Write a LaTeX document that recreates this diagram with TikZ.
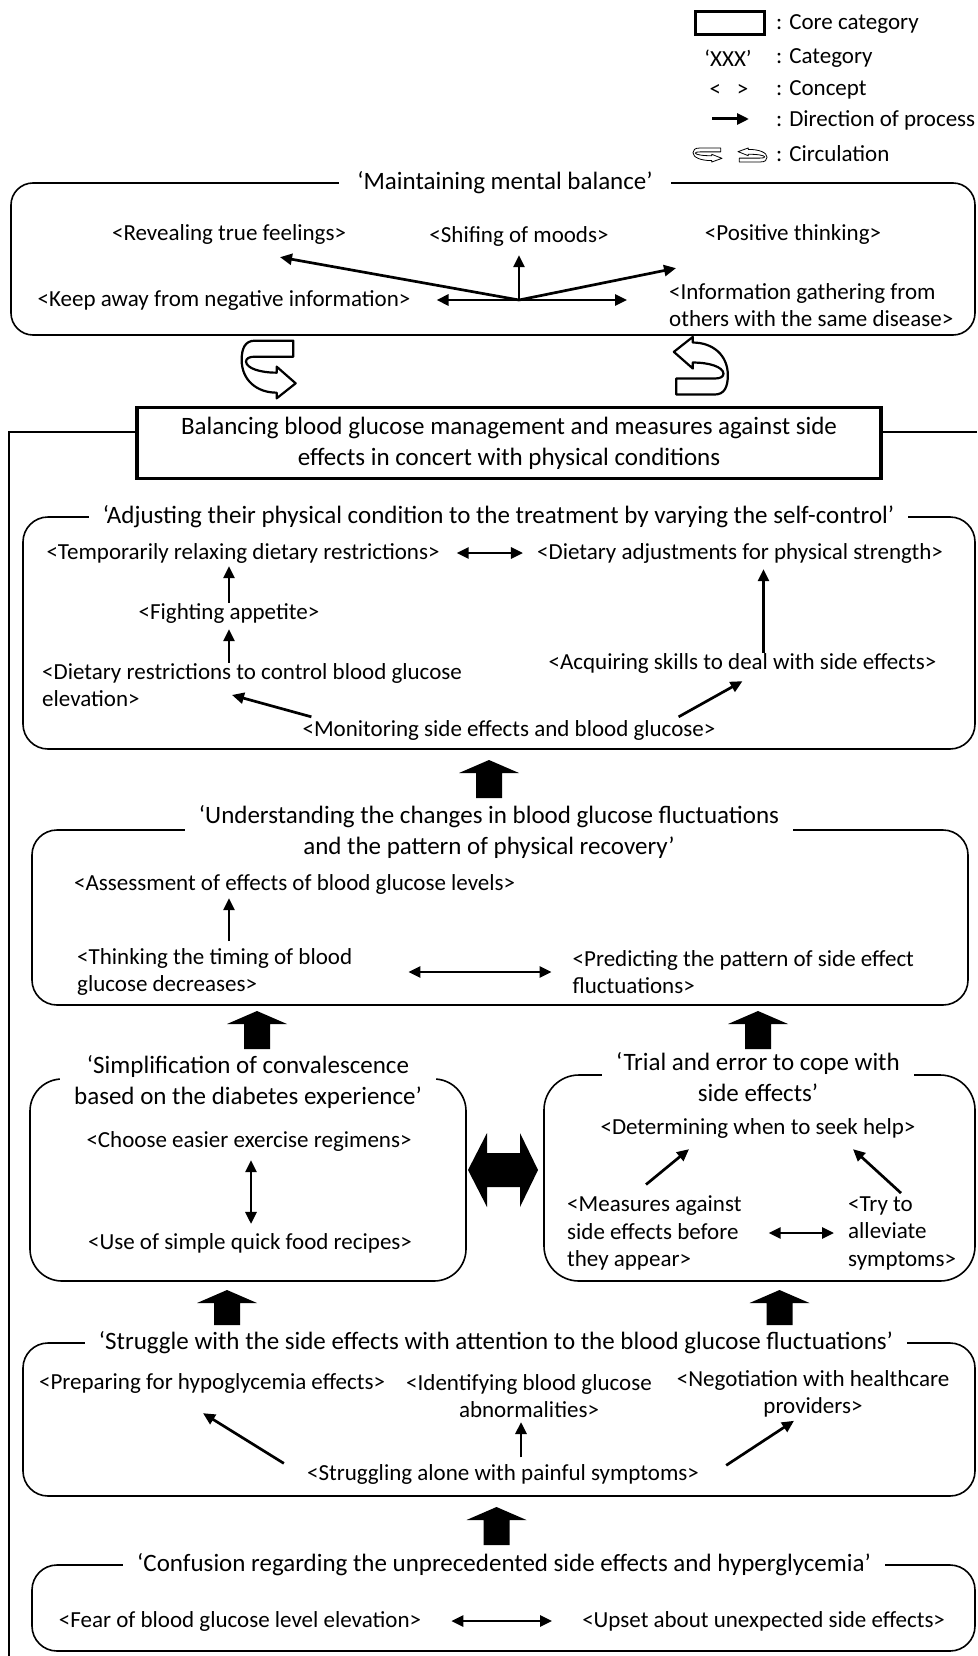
\documentclass[tikz,border=0pt]{standalone}
\usepackage{fontspec}
\setmainfont{Carlito}
\usetikzlibrary{arrows.meta,calc}
\begin{document}
\begin{tikzpicture}[x=1pt,y=-1pt,
  catfont/.style={font=\fontsize{25}{31}\selectfont},
  cat/.style={catfont, fill=white, inner xsep=14pt, inner ysep=1pt, align=center},
  concept/.style={font=\fontsize{23}{27.5}\selectfont, inner sep=0pt, align=center},
  conl/.style={concept, align=left, anchor=west},
  leg/.style={font=\fontsize{23}{27.5}\selectfont, inner sep=0pt},
  catbox/.style={line width=1.6pt, rounded corners=25pt},
  sideline/.style={line width=1.6pt},
  arr/.style={line width=2.7pt, -{Triangle[length=12pt,width=11pt]}},
  darr/.style={line width=2.7pt, {Triangle[length=12pt,width=11pt]}-{Triangle[length=12pt,width=11pt]}},
  fatarrow/.style={fill=black},
  circarrow/.pic={\draw[fill=white, line join=round]
    (190,32) -- (75,32) .. controls (45,32) and (35,55) .. (35,90)
    .. controls (35,150) and (80,188) .. (140,188) -- (140,205) -- (197,160)
    -- (140,110) -- (140,128) .. controls (90,128) and (50,115) .. (48,95)
    .. controls (48,85) and (58,80) .. (75,80) -- (190,80) -- cycle;}
]
\useasboundingbox (0,0) rectangle (977,1656);

% ---------- legend ----------
\node[draw, line width=3pt, minimum width=69pt, minimum height=23pt, inner sep=0pt] (lgcore) at (729.5,23.5) {};
\node[leg, anchor=west] (lgt1) at (776,24) {: Core category};
\node[leg] (lgxxx) at (728,58) {‘XXX’};
\node[leg, anchor=west] (lgt2) at (776,58) {: Category};
\node[leg] (lgcon) at (729,90) {<\hspace{16pt}>};
\node[leg, anchor=west] (lgt3) at (776,90) {: Concept};
\coordinate (lga1) at (712,119);
\coordinate (lga2) at (749,119);
\draw[line width=3pt, -{Triangle[length=12pt,width=11pt]}] (lga1) -- (lga2);
\node[leg, anchor=west] (lgt4) at (776,120) {: Direction of process};
\pic[xscale=0.179, yscale=0.081, line width=0.8pt] at (686.7,145.4) {circarrow};
\pic[rotate=180, xscale=0.179, yscale=0.081, line width=0.8pt] at (773.3,164.6) {circarrow};
\node[leg, anchor=west] (lgt5) at (776,154) {: Circulation};

% ---------- Maintaining mental balance ----------
\draw[catbox, rounded corners=22pt] (11,183) rectangle (975,335);
\node[cat, inner xsep=18pt] (mtitle) at (505,183) {‘Maintaining mental balance’};
\node[concept] (reveal) at (229,234) {<Revealing true feelings>};
\node[concept] (moods) at (519,236) {<Shifing of moods>};
\node[concept] (posit) at (793,234) {<Positive thinking>};
\node[concept] (keep) at (224,301) {<Keep away from negative information>};
\node[conl] (info) at (669,305) {<Information gathering from\\others with the same disease>};
\coordinate (hub) at (519,300);
\draw[arr] (hub) -- ($(reveal.south)+(51,13)$);
\draw[arr] (hub) -- ($(moods.south)+(0,9)$);
\draw[arr] (hub) -- ($(posit.south)+(-117,24)$);
\draw[arr] (hub) -- ($(hub -| keep.east)+(26,0)$);
\draw[arr] (hub) -- ($(hub -| info.west)+(-42,0)$);

% ---------- circulation ----------
\pic[scale=1/3, line width=2.2pt] at (230,330) {circarrow};
\pic[rotate=180, scale=1/3, line width=2.2pt] at (739.5,405.2) {circarrow};

% ---------- core category ----------
\node[draw, line width=3.2pt, minimum width=744pt, minimum height=71pt, catfont, align=center, inner sep=0pt] (core) at (509,443)
  {Balancing blood glucose management and measures against side\\effects in concert with physical conditions};
\coordinate (lcorner) at (9,432);
\coordinate (lbottom) at (9,1656);
\coordinate (rend) at (977,432);
\draw[sideline] (core.west |- rend) -- (lcorner) -- (lbottom);
\draw[sideline] (core.east |- rend) -- (rend);

% ---------- Adjusting ----------
\draw[catbox] (23,517) rectangle (975,749);
\node[cat] (atitle) at (498.5,517) {‘Adjusting their physical condition to the treatment by varying the self-control’};
\node[concept] (temp) at (243,553) {<Temporarily relaxing dietary restrictions>};
\node[concept] (dadj) at (740,553) {<Dietary adjustments for physical strength>};
\draw[darr, shorten <=17pt, shorten >=14pt] (temp) -- (dadj);
\node[concept] (fight) at (229,613) {<Fighting appetite>};
\node[conl] (drest) at (42,685) {<Dietary restrictions to control blood glucose\\elevation>};
\node[concept] (acq) at (742.5,663) {<Acquiring skills to deal with side effects>};
\node[concept] (monit) at (509,730) {<Monitoring side effects and blood glucose>};
\draw[arr, shorten >=3pt] (fight.north) -- (fight.north |- temp.south);
\draw[arr, shorten >=6pt] (fight.south |- drest.north) -- (fight.south);
\draw[arr, shorten >=6pt] ([xshift=21pt]acq.north) -- ([xshift=21pt]acq.north |- dadj.south);
\draw[arr] ($(monit.north west)+(9,-3)$) -- ($(drest.north west)+(190,32)$);
\draw[arr] ($(monit.north east)+(-37,-3)$) -- ($(acq.south)+(0,8)$);

\fill[fatarrow] (476,798) -- (502,798) -- (502,773) -- (519,773) -- (489,760) -- (459,773) -- (476,773) -- cycle;

% ---------- Understanding ----------
\draw[catbox] (32,830) rectangle (968,1005);
\node[cat] (utitle) at (489,832) {‘Understanding the changes in blood glucose fluctuations\\and the pattern of physical recovery’};
\node[concept, anchor=west] (assess) at (74,884) {<Assessment of effects of blood glucose levels>};
\node[conl] (think) at (77,972) {<Thinking the timing of blood\\glucose decreases>};
\node[conl] (pred) at (572.5,972) {<Predicting the pattern of side effect\\fluctuations>};
\draw[arr] ($(think.north west)+(152,-7)$) -- ($(assess.south west)+(155,4)$);
\draw[darr] ($(think.east)+(56,0)$) -- ($(pred.west)+(-21,0)$);

\fill[fatarrow] (244,1049) -- (270,1049) -- (270,1024) -- (287,1024) -- (257,1011) -- (227,1024) -- (244,1024) -- cycle;
\fill[fatarrow] (745,1049) -- (771,1049) -- (771,1024) -- (788,1024) -- (758,1011) -- (728,1024) -- (745,1024) -- cycle;

% ---------- Simplification ----------
\draw[catbox, rounded corners=32pt] (30,1079) rectangle (466,1281);
\node[cat] (stitle) at (248,1082) {‘Simplification of convalescence\\based on the diabetes experience’};
\node[concept] (choose) at (249,1141) {<Choose easier exercise regimens>};
\node[concept] (useof) at (250,1243) {<Use of simple quick food recipes>};
\draw[darr] ($(choose.south)+(2,9)$) -- ($(useof.north)+(1,-9)$);

% ---------- Trial and error ----------
\draw[catbox, rounded corners=35pt] (544,1075) rectangle (975,1281);
\node[cat] (ttitle) at (758,1077) {‘Trial and error to cope with\\side effects’};
\node[concept] (determ) at (758,1128) {<Determining when to seek help>};
\node[conl] (meas) at (567,1233) {<Measures against\\side effects before\\they appear>};
\node[conl] (tryto) at (848,1233) {<Try to\\alleviate\\symptoms>};
\draw[arr] ($(meas.north west)+(79,-11)$) -- ($(determ.south)+(-69,11)$);
\draw[arr] ($(tryto.north west)+(53,-3)$) -- ($(determ.south)+(95,11)$);
\draw[darr] ($(meas.east)+(27,0)$) -- ($(tryto.west)+(-14,0)$);

\fill[fatarrow] (468,1170) -- (487,1133) -- (487,1153) -- (520,1153) -- (520,1133) -- (538,1170)
  -- (520,1207) -- (520,1187) -- (487,1187) -- (487,1207) -- cycle;

\fill[fatarrow] (214,1325) -- (240,1325) -- (240,1303) -- (257,1303) -- (227,1290) -- (197,1303) -- (214,1303) -- cycle;
\fill[fatarrow] (766.5,1325) -- (792.5,1325) -- (792.5,1303) -- (809.5,1303) -- (779.5,1290) -- (749.5,1303) -- (766.5,1303) -- cycle;

% ---------- Struggle ----------
\draw[catbox] (23,1343) rectangle (975,1496);
\node[cat] (sgtitle) at (496,1343) {‘Struggle with the side effects with attention to the blood glucose fluctuations’};
\node[concept] (prep) at (212,1383) {<Preparing for hypoglycemia effects>};
\node[concept] (ident) at (529,1396) {<Identifying blood glucose\\abnormalities>};
\node[concept] (nego) at (813,1394) {<Negotiation with healthcare\\providers>};
\node[concept] (strug) at (503,1474.5) {<Struggling alone with painful symptoms>};
\draw[arr] ($(strug.north west)+(-23,-1)$) -- ($(prep.south)+(-9,20)$);
\draw[arr] ($(strug.north)+(18,-7)$) -- ($(ident.south)+(-8,4)$);
\draw[arr] ($(strug.north east)+(27,1)$) -- ($(nego.south)+(-19,3)$);

\fill[fatarrow] (483.5,1545) -- (509.5,1545) -- (509.5,1520) -- (526.5,1520) -- (496.5,1507) -- (466.5,1520) -- (483.5,1520) -- cycle;

% ---------- Confusion ----------
\draw[catbox] (32,1565) rectangle (975,1651);
\node[cat] (ctitle) at (504,1565) {‘Confusion regarding the unprecedented side effects and hyperglycemia’};
\node[concept] (fear) at (240,1621) {<Fear of blood glucose level elevation>};
\node[concept] (upset) at (763.6,1621) {<Upset about unexpected side effects>};
\draw[darr, shorten <=30pt, shorten >=30pt] (fear) -- (upset);
\end{tikzpicture}
\end{document}
